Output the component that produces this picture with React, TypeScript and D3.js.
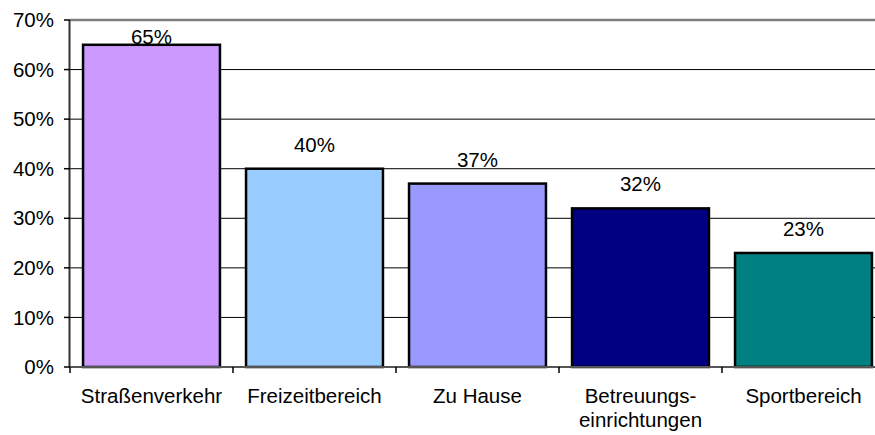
import React from "react";
import * as d3 from "d3";

const categories: string[][] = [
  ["Straßenverkehr"],
  ["Freizeitbereich"],
  ["Zu Hause"],
  ["Betreuungs-", "einrichtungen"],
  ["Sportbereich"],
];
const values: number[] = [65, 40, 37, 32, 23];
const barColors: string[] = ["#CC99FF", "#99CCFF", "#9999FF", "#000080", "#008080"];
const yTicks: number[] = [0, 10, 20, 30, 40, 50, 60, 70];

const W = 875;
const H = 435;
const M = { left: 70, top: 20, right: 885, bottom: 367 };
const FONT = "'Liberation Sans', Arial, sans-serif";
const FS = 20.5;

export default function App() {
  const x = d3
    .scaleBand<number>()
    .domain(values.map((_, i) => i))
    .range([M.left, M.right])
    .paddingInner(0.16)
    .paddingOuter(0.08);
  const y = d3.scaleLinear().domain([0, 70]).range([M.bottom, M.top]);
  const boundaries = d3.range(values.length + 1).map((i) => M.left + ((M.right - M.left) / values.length) * i);

  return (
    <svg
      width={W}
      height={H}
      style={{ position: "absolute", left: 0, top: 0, background: "#fff" }}
      fontFamily={FONT}
    >
      {yTicks.filter((t) => t > 0 && t < 70).map((t) => (
        <line key={t} x1={M.left} x2={M.right} y1={y(t)} y2={y(t)} stroke="#000" strokeWidth={1} />
      ))}
      <line x1={M.left} x2={M.right} y1={y(70)} y2={y(70)} stroke="#808080" strokeWidth={2.5} />
      {values.map((v, i) => (
        <rect
          key={i}
          x={x(i) as number}
          y={y(v)}
          width={x.bandwidth()}
          height={y(0) - y(v)}
          fill={barColors[i]}
          stroke="#000"
          strokeWidth={2.5}
        />
      ))}
      {values.map((v, i) => (
        <text
          key={i}
          x={(x(i) as number) + x.bandwidth() / 2}
          y={Math.max(y(v) - 17, y(70) + 24)}
          textAnchor="middle"
          fontSize={FS}
          fill="#000"
        >
          {v}%
        </text>
      ))}
      <line x1={M.left - 0.5} x2={M.left - 0.5} y1={M.top} y2={M.bottom} stroke="#333" strokeWidth={2} />
      {yTicks.map((t) => (
        <g key={t}>
          <line x1={M.left - 6} x2={M.left} y1={y(t)} y2={y(t)} stroke="#000" strokeWidth={1.5} />
          <text x={M.left - 16} y={y(t)} dy="0.35em" textAnchor="end" fontSize={FS} fill="#000">
            {t}%
          </text>
        </g>
      ))}
      <line x1={M.left} x2={M.right} y1={M.bottom} y2={M.bottom} stroke="#555" strokeWidth={2} />
      {boundaries.map((b, i) => (
        <line key={i} x1={b} x2={b} y1={M.bottom} y2={M.bottom + 6} stroke="#000" strokeWidth={1.5} />
      ))}
      {categories.map((lines, i) => (
        <text
          key={i}
          x={(x(i) as number) + x.bandwidth() / 2}
          y={M.bottom + 36}
          textAnchor="middle"
          fontSize={FS}
          fill="#000"
        >
          {lines.map((l, j) => (
            <tspan key={j} x={(x(i) as number) + x.bandwidth() / 2} dy={j === 0 ? 0 : 24}>
              {l}
            </tspan>
          ))}
        </text>
      ))}
    </svg>
  );
}
